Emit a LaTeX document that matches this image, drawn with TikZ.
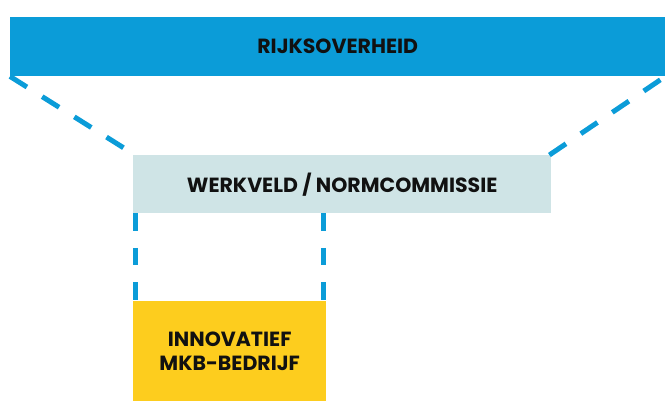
\documentclass[tikz,border=0pt]{standalone}
\usepackage{fontspec}
\setmainfont{Poppins}
\usepackage{tikz}
\usetikzlibrary{calc}
\definecolor{rijkblue}{HTML}{0B9CD8}
\definecolor{veldgray}{HTML}{CFE4E6}
\definecolor{mkbgold}{HTML}{FDCD1E}
\definecolor{ink}{HTML}{111111}
\tikzset{
  box/.style={draw=none, anchor=north west, inner sep=0pt, align=center,
    text=ink, font=\bfseries\fontsize{20.5}{24.5}\selectfont},
  link/.style={draw=rijkblue, line width=5pt, dash pattern=on 20pt off 18pt},
  vlink/.style={draw=rijkblue, line width=5pt, dash pattern=on 17.5pt off 17pt},
}

\begin{document}
\begin{tikzpicture}[x=1pt,y=-1pt]
  \useasboundingbox (0,0) rectangle (665,401);
  % three levels
  \node[box, fill=rijkblue, minimum width=655pt, minimum height=59pt] (rijk) at (10,17) {RIJKSOVERHEID};
  \node[box, fill=veldgray, minimum width=418pt, minimum height=58pt] (werkveld) at (133,155) {WERKVELD / NORMCOMMISSIE};
  \node[box, fill=mkbgold, minimum width=193pt, minimum height=100pt] (mkb) at (133,301) {INNOVATIEF\\MKB-BEDRIJF};
  % dashed links
  \draw[link] (rijk.south west) -- ([xshift=2pt]werkveld.north west);
  \draw[link] ([xshift=-2pt]werkveld.north east) -- (rijk.south east);
  \draw[vlink] ([xshift=2.5pt]werkveld.south west) -- ([xshift=2.5pt]mkb.north west);
  \draw[vlink] ([xshift=-2.5pt]mkb.north east |- werkveld.south) -- ([xshift=-2.5pt]mkb.north east);
\end{tikzpicture}
\end{document}
